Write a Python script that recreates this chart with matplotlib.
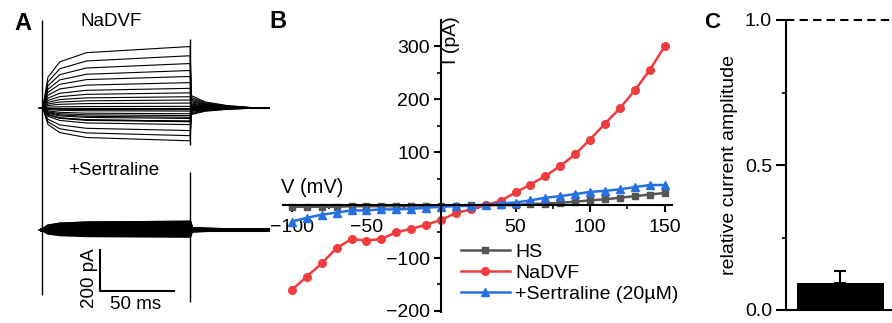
import matplotlib
matplotlib.use('Agg')
import matplotlib.pyplot as plt
import numpy as np

plt.rcParams['font.family'] = ['Liberation Sans', 'DejaVu Sans']
plt.rcParams['font.size'] = 14

# ---- data ----
volts = list(range(-100, 151, 10))   # mV
i_hs = [-3, -3, -3, -3, -2, -2, -2, -2, -2, -1, -1, -1, 0, 0, 0, 0,
        2, 3, 4.5, 6.5, 9, 11, 14, 17, 20, 23]
i_nadvf = [-160, -135, -110, -81, -64, -67, -64, -51, -45, -37, -28, -15, -8,
           0, 8, 24, 39, 55, 74, 96, 124, 154, 183, 217, 255, 300]
i_sert = [-31, -24, -18, -14, -10, -10, -8, -8, -7, -5, -3, -2, -1, 0,
          3, 5, 9, 14, 17, 21, 25, 27, 30, 34, 38, 38]

rel_amp = [0.093]
rel_err = [0.041]

# trace kinetics for panel A (ms, fraction of steady state)
t_rise = [0, 0.5, 4, 12, 30, 100]
f_rise = [0, 0, 0.5, 0.75, 0.9, 1.0]
t_tail = [100, 101, 110, 125, 145, 155]
f_tail = [1.0, 0.2, 0.1, 0.04, 0, 0]
# capacitive transient extents (pA) at pulse on / off
cap_on = [429, -912]
cap_off = [(337, -180), (-312, -946)]
sert_offset = -595

fig = plt.figure(figsize=(8.92, 3.23), dpi=100)

# ---------------- panel A ----------------
axA = fig.add_axes([30/892, 0, 240/892, 1])
axA.set_xlim(-8.1, 154)
axA.set_ylim(-1049, 527)
axA.axis('off')

t_all = t_rise + t_tail
for k in range(len(volts)):
    y1 = [i_nadvf[k]*f for f in f_rise] + [i_nadvf[k]*f for f in f_tail]
    axA.plot(t_all, y1, color='k', lw=0.8)
    y2 = [sert_offset + i_sert[k]*f for f in f_rise] + \
         [sert_offset + i_sert[k]*f for f in f_tail]
    axA.plot(t_all, y2, color='k', lw=2.2)
# short baseline marks before the pulse
axA.plot([-2, 0], [0, 0], color='k', lw=1.2)
axA.plot([-2, 0], [sert_offset, sert_offset], color='k', lw=1.2)
axA.vlines(0, cap_on[1], cap_on[0], color='k', lw=1.0)
for a, b in cap_off:
    axA.vlines(100, b, a, color='k', lw=1.0)

# scale bar
axA.plot([39.3, 39.3, 89.3], [-692, -892, -892], color='k', lw=1.5)
axA.text(32, -830, '200 pA', rotation=90, ha='center', va='center', fontsize=13.5)
axA.text(63, -960, '50 ms', ha='center', va='center', fontsize=13.5)
axA.text(47, 420, 'NaDVF', ha='center', va='center', fontsize=13.5)
axA.text(48.6, -303, '+Sertraline', ha='center', va='center', fontsize=13.5)

fig.text(23/892, 1-23/323, 'A', fontsize=17, fontweight='bold', ha='center', va='center')

# ---------------- panel B ----------------
axB = fig.add_axes([283/892, 1-312/323, 389/892, 292/323])
axB.plot(volts, i_hs, color='#555555', marker='s', ms=5, lw=1.8, label='HS')
axB.plot(volts, i_nadvf, color='#f03c3c', marker='o', ms=5.5, lw=1.8, label='NaDVF')
axB.plot(volts, i_sert, color='#2670e0', marker='^', ms=6, lw=1.8,
         label='+Sertraline (20\u00b5M)')
axB.set_xlim(-106, 155)
axB.set_ylim(-202, 350)
axB.spines['left'].set_position(('data', 0))
axB.spines['bottom'].set_position(('data', 0))
axB.spines['right'].set_visible(False)
axB.spines['top'].set_visible(False)
for s in ['left', 'bottom']:
    axB.spines[s].set_linewidth(1.5)
axB.set_xticks([-100, -50, 50, 100, 150])
axB.set_xticks([-75, -25, 25, 75, 125], minor=True)
axB.set_yticks([-200, -100, 100, 200, 300])
axB.set_yticks([-150, -50, 50, 150, 250], minor=True)
axB.tick_params(which='major', direction='out', length=5, width=1.5, labelsize=14, pad=3)
axB.tick_params(axis='x', which='major', pad=5)
axB.tick_params(which='minor', direction='out', length=3, width=1.2)
axB.patch.set_alpha(0)
axB.legend(loc='upper left', bbox_to_anchor=(461/892, 1-243/323),
           bbox_transform=fig.transFigure, frameon=False, fontsize=14,
           handlelength=2.5, handletextpad=0.3, labelspacing=0.18,
           borderpad=0, borderaxespad=0)
fig.text(281/892, 1-188/323, 'V (mV)', ha='left', va='center', fontsize=14.5)
fig.text(452/892, 1-40/323, 'I (pA)', rotation=90, ha='center', va='center', fontsize=14)
fig.text(278/892, 1-22/323, 'B', fontsize=17, fontweight='bold', ha='center', va='center')

# ---------------- panel C ----------------
axC = fig.add_axes([786/892, 1-310/323, 106/892, 290/323])
axC.bar([0.514], rel_amp, width=0.82, color='k')
axC.errorbar([0.514], rel_amp, yerr=[[0], rel_err], fmt='none', ecolor='k',
             elinewidth=1.5, capsize=4, capthick=1.5)
axC.axhline(1.0, color='k', lw=1.5, ls=(0, (4, 2.5)), clip_on=False)
axC.set_xlim(0, 1)
axC.set_ylim(0, 1.0)
axC.spines['right'].set_visible(False)
axC.spines['top'].set_visible(False)
axC.spines['left'].set_linewidth(1.5)
axC.spines['bottom'].set_linewidth(1.5)
axC.set_xticks([])
axC.set_yticks([0, 0.5, 1.0])
axC.set_yticklabels(['0.0', '0.5', '1.0'])
axC.set_yticks([0.25, 0.75], minor=True)
axC.tick_params(which='major', direction='out', length=7, width=1.5, labelsize=14, pad=3)
axC.tick_params(which='minor', direction='out', length=3, width=1.2)
axC.set_ylabel('relative current amplitude', fontsize=14, labelpad=5)
fig.text(712/892, 1-22/323, 'C', fontsize=16, fontweight='bold', ha='center', va='center')

fig.savefig('out.png', dpi=100)
